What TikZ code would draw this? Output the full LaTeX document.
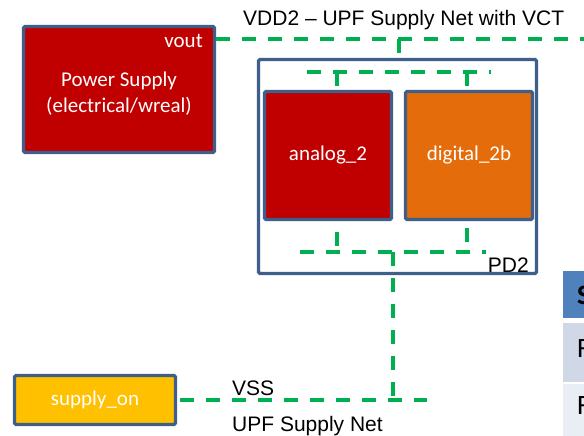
\documentclass[tikz,border=0pt]{standalone}
\usepackage{fontspec}
\setmainfont{Carlito}
\newfontfamily\arialfont{Liberation Sans}
\definecolor{boxline}{HTML}{3E5F8A}
\definecolor{deepred}{HTML}{C00000}
\definecolor{burnt}{HTML}{E46C0A}
\definecolor{amber}{HTML}{FFC000}
\definecolor{netgreen}{HTML}{00B050}
\definecolor{thead}{HTML}{4F81BD}
\definecolor{trowa}{HTML}{D0D8E8}
\definecolor{trowb}{HTML}{E9EDF4}
\begin{document}
\begin{tikzpicture}[x=1pt,y=-1pt,
  blockbox/.style={draw=boxline,line width=3.2pt,rounded corners=1.5pt,
    inner sep=0pt,text=white,align=center,
    font=\fontsize{21}{26}\selectfont},
  net/.style={draw=netgreen,line width=3.2pt,dash pattern=on 14pt off 12pt},
  wiretext/.style={inner sep=0pt,font=\arialfont\fontsize{21}{26}\selectfont},
  cell/.style={draw=none,inner sep=0pt,anchor=north west,minimum width=40pt},
  celltext/.style={inner sep=0pt,anchor=base west,font=\fontsize{28}{32}\selectfont}]
\useasboundingbox (0,0) rectangle (584,436);
\begin{scope}
\clip (0,0) rectangle (584,436);

% power domain PD2 with its two blocks
\node[blockbox,fill=white,minimum width=278pt,minimum height=214pt] (pd) at (397.5,166.5) {};
\node[wiretext,anchor=base east] (pdlbl) at (529,272.5) {PD2};
\node[blockbox,fill=deepred,minimum width=127pt,minimum height=128pt] (an) at (328,155.5) {analog\_2};
\node[blockbox,fill=burnt,minimum width=127pt,minimum height=128pt] (dg) at (469,155.5) {digital\_2b};

% supply source and enable block
\node[blockbox,fill=deepred,minimum width=191pt,minimum height=126pt] (ps) at (119,89.5) {};
\node[inner sep=0pt,text=white,align=center,font=\fontsize{21}{26}\selectfont,anchor=north] (pslbl) at (119,71.5) {Power Supply\\(electrical/wreal)};
\node[inner sep=0pt,text=white,anchor=base east,font=\fontsize{21}{26}\selectfont] (vout) at (203,48) {vout};
\node[blockbox,fill=amber,minimum width=161pt,minimum height=49pt] (so) at (95,400) {supply\_on};

% VDD2 net
\coordinate (vddR) at (595,39);
\coordinate (vddtap) at (399,39);
\draw[net] (vddR -| ps.east) -- (vddR);
\draw[net] (vddtap) -- (vddtap |- pd.north);
\node[wiretext,anchor=base west] (vddlbl) at (243,25.5) {VDD2 – UPF Supply Net with VCT};

% VDD2 distribution inside PD2
\coordinate (ibL) at (307,72);
\coordinate (ibR) at (491,72);
\draw[net] (ibL) -- (ibR);
\draw[net] ([xshift=9pt]an.north |- ibL) -- ([xshift=9pt]an.north);
\draw[net] ([xshift=-2pt]dg.north |- ibL) -- ([xshift=-2pt]dg.north);

% VSS return inside PD2
\coordinate (obL) at (300,252);
\coordinate (obR) at (486,252);
\coordinate (obtap) at (393,252);
\draw[net] (obL) -- (obR);
\draw[net,dash phase=15pt] ([xshift=9pt]an.south) -- ([xshift=9pt]an.south |- obL);
\draw[net,dash phase=19pt] ([xshift=-2pt]dg.south) -- ([xshift=-2pt]dg.south |- obL);

% VSS net
\coordinate (vssR) at (427,400);
\coordinate (vsstap) at (393,400);
\draw[net] ([xshift=3pt]so.east) -- (vssR);
\draw[net] (obtap) -- (vsstap);
\node[wiretext,anchor=base west] (vsslbl) at (232,395.5) {VSS};
\node[wiretext,anchor=base west] (upflbl) at (232,431.5) {UPF Supply Net};

% table at the right edge
\node[cell,fill=thead,minimum height=47pt] (th) at (563,271) {};
\node[cell,fill=trowa,minimum height=59pt] (tra) at (563,323) {};
\node[cell,fill=trowb,minimum height=60pt] (trb) at (563,384) {};
\node[celltext,font=\bfseries\fontsize{28}{32}\selectfont] (tht) at (577,304) {S};
\node[celltext] (trat) at (577,357) {F};
\node[celltext] (trbt) at (577,414) {F};
\end{scope}
\end{tikzpicture}
\end{document}
